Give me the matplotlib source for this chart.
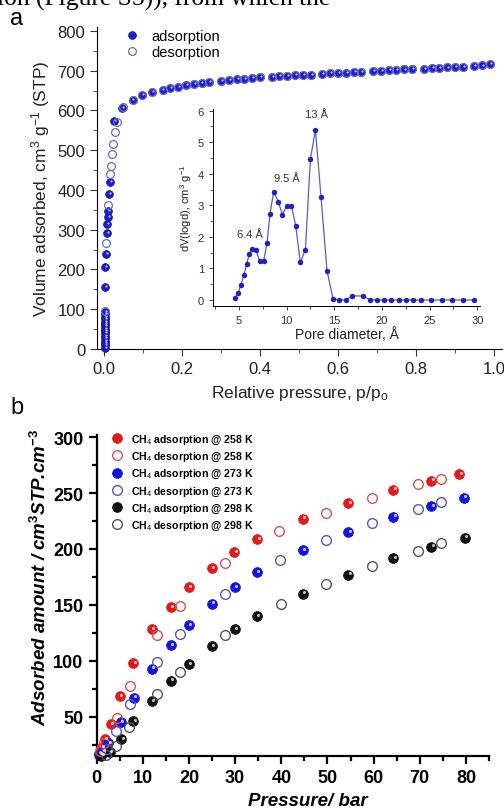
import matplotlib
matplotlib.use("Agg")
import matplotlib.pyplot as plt
from matplotlib.ticker import MultipleLocator
from matplotlib.transforms import ScaledTranslation

plt.rcParams["font.family"] = ["Liberation Sans", "DejaVu Sans"]
plt.rcParams["mathtext.fontset"] = "custom"
plt.rcParams["mathtext.rm"] = "Liberation Sans"
plt.rcParams["mathtext.it"] = "Liberation Sans:italic"
plt.rcParams["mathtext.bf"] = "Liberation Sans:bold"

# ---- panel a: N2 isotherm ----
# shared upper branch (adsorption and desorption overlap)
BRANCH_P = [0.15, 0.17, 0.19, 0.21, 0.23, 0.25, 0.27, 0.30, 0.32, 0.34,
            0.36, 0.38, 0.40, 0.43, 0.45, 0.47, 0.49, 0.51, 0.53, 0.56,
            0.58, 0.60, 0.62, 0.64, 0.66, 0.69, 0.71, 0.73, 0.75, 0.77,
            0.79, 0.82, 0.84, 0.86, 0.88, 0.90, 0.92, 0.95, 0.97, 0.99]
BRANCH_V = [652, 656, 660, 664, 667, 670, 672, 675, 677, 679,
            680, 682, 683, 685, 686, 687, 688, 689, 690, 692,
            693, 694, 695, 696, 697, 699, 700, 701, 702, 703,
            704, 705, 706, 707, 708, 709, 710, 712, 713, 716]

ADS_P = [0.002, 0.002, 0.002, 0.002, 0.002, 0.002, 0.002, 0.002, 0.002, 0.002,
         0.002, 0.002, 0.002, 0.002, 0.002, 0.002, 0.003, 0.003, 0.004, 0.007,
         0.007, 0.009, 0.009, 0.014, 0.015, 0.026, 0.047, 0.073, 0.098, 0.122]
ADS_V = [3, 9, 15, 21, 27, 33, 39, 45, 51, 57,
         63, 69, 75, 81, 87, 92, 157, 205, 239, 291,
         314, 331, 348, 390, 421, 574, 607, 626, 639, 646]
DES_P = [0.002, 0.005, 0.011, 0.015, 0.017, 0.021, 0.024, 0.028, 0.033,
         0.049, 0.073, 0.098, 0.122]
DES_V = [96, 267, 361, 440, 461, 490, 516, 545, 570, 608, 626, 639, 646]

# inset: pore size distribution
PORE_D = [4.55, 4.90, 5.21, 5.53, 5.80, 6.09, 6.37, 6.79, 7.17, 7.59,
          7.94, 8.26, 8.64, 9.13, 9.55, 10.01, 10.50, 10.95, 11.44, 11.97,
          12.49, 13.02, 13.61, 14.24, 14.87, 15.50, 16.20, 16.90, 17.99, 18.76,
          19.46, 20.23, 20.97, 21.77, 22.51, 23.28, 24.05, 25.13, 26.25, 27.37,
          28.49, 29.65]
PORE_DV = [0.06, 0.21, 0.49, 0.80, 1.14, 1.46, 1.62, 1.57, 1.23, 1.23,
           1.82, 2.74, 3.43, 3.12, 2.70, 2.99, 2.99, 2.35, 1.19, 1.60,
           4.47, 5.38, 3.25, 0.92, 0.03, 0.0, 0.0, 0.13, 0.13, 0.0,
           0.0, 0.0, 0.0, 0.0, 0.0, 0.0, 0.0, 0.0, 0.0, 0.0,
           0.0, 0.0]
PEAK_LABELS = ["6.4 Å", "9.5 Å", "13 Å"]
PEAK_POS = [(6.16, 2.09), (10.04, 3.86), (13.1, 5.89)]

# ---- panel b: CH4 isotherms ----
P258_ADS = [0.5, 1.0, 1.8, 3.0, 5.0, 7.9, 12.0, 16.0, 20.0, 24.9, 29.8, 34.8,
            44.6, 54.5, 64.3, 72.5, 78.6]
V258_ADS = [17, 22, 30, 43, 68, 98, 128, 148, 166, 183, 197, 209,
            227, 241, 253, 261, 267]
P258_DES = [0.8, 1.5, 4.3, 7.3, 13.0, 18.0, 27.9, 39.6, 49.6, 59.7, 69.6, 74.6]
V258_DES = [19, 26, 49, 77, 123, 149, 187, 216, 232, 246, 258, 263]

P273_ADS = [0.6, 1.3, 2.5, 5.2, 8.1, 12.0, 16.0, 20.0, 24.9, 29.9, 34.7,
            44.6, 54.5, 64.3, 72.5, 79.6]
V273_ADS = [16, 19, 26, 45, 67, 93, 114, 132, 151, 166, 179,
            199, 215, 229, 238, 246]
P273_DES = [2.2, 4.1, 7.3, 13.1, 18.0, 27.9, 39.7, 49.6, 59.7, 69.6, 74.5]
V273_DES = [21, 37, 61, 99, 124, 160, 190, 208, 223, 236, 242]

P298_ADS = [1.0, 2.8, 5.3, 7.9, 12.0, 16.0, 20.0, 24.9, 29.9, 34.7,
            44.6, 54.5, 64.3, 72.5, 79.7]
V298_ADS = [15, 18, 30, 46, 64, 82, 97, 113, 128, 140,
            160, 177, 192, 202, 210]
P298_DES = [2.0, 4.1, 7.1, 13.1, 18.0, 27.9, 39.9, 49.6, 59.7, 69.6, 74.7]
V298_DES = [16, 24, 41, 70, 90, 123, 151, 169, 185, 198, 205]

SERIES_B = [
    ("CH$_4$ adsorption @ 258 K", P258_ADS, V258_ADS, "#e31a1c", True),
    ("CH$_4$ desorption @ 258 K", P258_DES, V258_DES, "#d9534f", False),
    ("CH$_4$ adsorption @ 273 K", P273_ADS, V273_ADS, "#1414e0", True),
    ("CH$_4$ desorption @ 273 K", P273_DES, V273_DES, "#5555cc", False),
    ("CH$_4$ adsorption @ 298 K", P298_ADS, V298_ADS, "#111111", True),
    ("CH$_4$ desorption @ 298 K", P298_DES, V298_DES, "#555555", False),
]


def shine(ax, x, y, size, dx=1.0, dy=1.0):
    # small white highlight to mimic the shaded balls
    off = ax.transData + ScaledTranslation(dx / 72, dy / 72, ax.figure.dpi_scale_trans)
    ax.plot(x, y, "o", ms=size, color="white", alpha=0.75, mec="none",
            transform=off, clip_on=False, zorder=6)


fig = plt.figure(figsize=(5.04, 8.12), dpi=100)

# tail of the page text above the figure, cut by the top edge
fig.text(330 / 504, 1 - 6 / 812, "tion (Figure S5)), from which the",
         family="Liberation Serif", fontsize=18.4, va="baseline", ha="right")

# ---------------- panel a ----------------
ax = fig.add_axes([0.1925, 0.569, 0.803, 0.3966])
ax.plot(ADS_P + BRANCH_P, ADS_V + BRANCH_V, "o", ms=5.6, color="#1c1cd0",
        mec="#10108a", mew=0.5, label="adsorption", zorder=4, clip_on=False)
shine(ax, ADS_P + BRANCH_P, ADS_V + BRANCH_V, 1.6, 0.7, 0.7)
ax.plot(DES_P + BRANCH_P, DES_V + BRANCH_V, "o", ms=5.6, mfc="none",
        mec="#6c6cc8", mew=0.9, label="desorption", zorder=7, clip_on=False)
ax.set_xlim(-0.018, 1.02)
ax.set_ylim(0, 810)
for s in ("top", "right"):
    ax.spines[s].set_visible(False)
ax.xaxis.set_major_locator(MultipleLocator(0.2))
ax.xaxis.set_minor_locator(MultipleLocator(0.1))
ax.yaxis.set_major_locator(MultipleLocator(100))
ax.yaxis.set_minor_locator(MultipleLocator(50))
ax.tick_params(which="both", direction="out", labelsize=12, color="#333333",
               labelcolor="#222222")
ax.tick_params(which="major", length=5)
ax.tick_params(which="minor", length=3)
ax.set_xticks([0.0, 0.2, 0.4, 0.6, 0.8, 1.0])
ax.set_xticklabels(["0.0", "0.2", "0.4", "0.6", "0.8", "1.0"])
ax.set_xlabel("Relative pressure, p/p$_\\mathrm{o}$", fontsize=12.5,
              color="#222222", labelpad=5)
ax.set_ylabel("Volume adsorbed, cm$^3$ g$^{-1}$ (STP)", fontsize=12.5,
              color="#222222", labelpad=4)
ax.legend(loc="upper left", bbox_to_anchor=(0.048, 1.02), frameon=False,
          fontsize=10.5, handletextpad=0.8, labelspacing=0.15,
          handlelength=1.0, borderaxespad=0.2)
fig.text(10 / 504, 1 - 19 / 812, "a", fontsize=17, va="center", ha="left")

# inset
ins = fig.add_axes([0.4226, 0.6219, 0.530, 0.2426])
ins.plot(PORE_D, PORE_DV, "-", color="#5a5ad0", lw=0.9, zorder=2)
ins.plot(PORE_D, PORE_DV, "o", ms=3.6, color="#2020c8", mec="#101080",
         mew=0.3, zorder=3)
ins.set_xlim(2.27, 30.3)
ins.set_ylim(-0.19, 6.05)
for s in ("top", "right"):
    ins.spines[s].set_visible(False)
ins.patch.set_alpha(0)
ins.xaxis.set_major_locator(MultipleLocator(5))
ins.xaxis.set_minor_locator(MultipleLocator(2.5))
ins.yaxis.set_major_locator(MultipleLocator(1))
ins.yaxis.set_minor_locator(MultipleLocator(0.5))
ins.tick_params(which="both", direction="out", labelsize=8, color="#444444",
                labelcolor="#333333", width=0.7)
ins.tick_params(which="major", length=3)
ins.tick_params(which="minor", length=2)
for sp in ins.spines.values():
    sp.set_linewidth(0.7)
ins.set_xlabel("Pore diameter, Å", fontsize=10, color="#222222", labelpad=1)
ins.set_ylabel("dV(logd), cm$^3$ g$^{-1}$", fontsize=8, color="#222222",
               labelpad=3)
for lab, (px, py) in zip(PEAK_LABELS, PEAK_POS):
    ins.text(px, py, lab, fontsize=8, ha="center", va="center", color="#333333")

# ---------------- panel b ----------------
bx = fig.add_axes([0.1919, 0.0681, 0.7784, 0.395])
for label, p, v, col, filled in SERIES_B:
    if filled:
        bx.plot(p, v, "o", ms=7, color=col, mec=col, mew=0.6, label=label,
                zorder=4, clip_on=False)
        shine(bx, p, v, 2.2, 1.0, 1.0)
    else:
        bx.plot(p, v, "o", ms=7, mfc="none", mec=col, mew=1.0, label=label,
                zorder=5, clip_on=False)
bx.set_xlim(0, 85)
bx.set_ylim(15, 302)
for s in ("top", "right"):
    bx.spines[s].set_visible(False)
for s in ("left", "bottom"):
    bx.spines[s].set_linewidth(1.6)
bx.xaxis.set_major_locator(MultipleLocator(10))
bx.xaxis.set_minor_locator(MultipleLocator(5))
bx.set_xticks(range(0, 81, 10))
bx.yaxis.set_major_locator(MultipleLocator(50))
bx.yaxis.set_minor_locator(MultipleLocator(25))
bx.set_yticks(range(50, 301, 50))
bx.tick_params(which="both", direction="out", width=1.6, labelsize=13)
bx.tick_params(which="major", length=6)
bx.tick_params(which="minor", length=3.5)
for t in bx.get_xticklabels() + bx.get_yticklabels():
    t.set_fontweight("bold")
bx.set_xlabel("Pressure/ bar", fontsize=13.5, fontweight="bold",
              fontstyle="italic")
bx.xaxis.set_label_coords(0.539, -0.113)
bx.set_ylabel("Adsorbed amount / cm$^\\mathbf{3}$STP.cm$^\\mathbf{-3}$",
              fontsize=13.5, fontweight="bold", fontstyle="italic")
bx.yaxis.set_label_coords(-0.119, 0.56)
bx.legend(loc="upper left", bbox_to_anchor=(0.02, 1.03), frameon=False,
          prop={"size": 7.6, "weight": "bold"}, handletextpad=0.8,
          labelspacing=0.38, handlelength=1.0, borderaxespad=0.3)
fig.text(10 / 504, 1 - 408 / 812, "b", fontsize=17, va="center", ha="left")

fig.savefig("out.png", dpi=100)
